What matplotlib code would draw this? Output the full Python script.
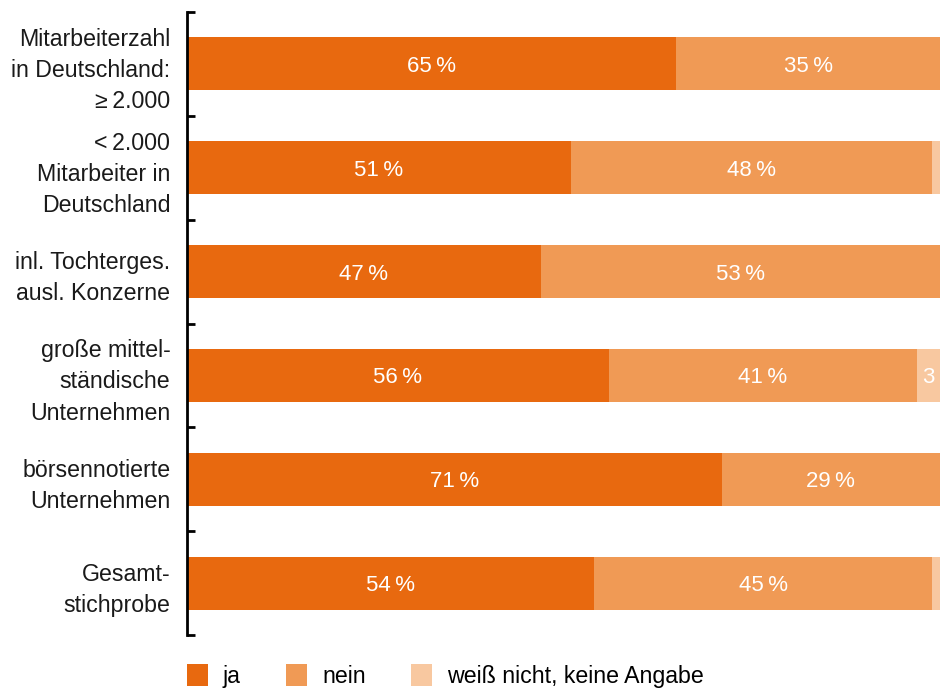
import matplotlib
matplotlib.use("Agg")
import matplotlib.pyplot as plt
from matplotlib.patches import Patch
import numpy as np

plt.rcParams["font.family"] = ["Liberation Sans", "DejaVu Sans"]

categories = [
    "Mitarbeiterzahl\nin Deutschland:\n≥\u20092.000",
    "<\u20092.000\nMitarbeiter in\nDeutschland",
    "inl. Tochterges.\nausl. Konzerne",
    "große mittel-\nständische\nUnternehmen",
    "börsennotierte\nUnternehmen",
    "Gesamt-\nstichprobe",
]
ja = [65, 51, 47, 56, 71, 54]
nein = [35, 48, 53, 41, 29, 45]
weiss = [0, 1, 0, 3, 0, 1]
labels_ja = ["65\u2009%", "51\u2009%", "47\u2009%", "56\u2009%", "71\u2009%", "54\u2009%"]
labels_nein = ["35\u2009%", "48\u2009%", "53\u2009%", "41\u2009%", "29\u2009%", "45\u2009%"]
labels_weiss = ["", "", "", "3", "", ""]

series = ["ja", "nein", "weiß nicht, keine Angabe"]
colors = ["#E8690F", "#F09A55", "#F8C8A0"]

fig = plt.figure(figsize=(9.49, 6.9), dpi=100)
ax = fig.add_axes([187 / 949, 55 / 690, 753 / 949, 623 / 690])

y = np.arange(len(categories))
left = np.zeros(len(categories))
for vals, col, labs in zip([ja, nein, weiss], colors,
                           [labels_ja, labels_nein, labels_weiss]):
    vals = np.array(vals, dtype=float)
    ax.barh(y, vals, left=left, height=0.51, color=col, linewidth=0)
    for yi, (l, v, t) in enumerate(zip(left, vals, labs)):
        if t:
            ax.text(l + v / 2, yi, t, color="white", fontsize=16,
                    ha="center", va="center_baseline")
    left += vals

ax.set_xlim(0, 100)
ax.set_ylim(len(categories) - 0.5, -0.5)
ax.set_yticks(y)
ax.set_yticklabels(categories, fontsize=16.7, linespacing=1.45,
                   color="#1a1a1a")
ax.tick_params(axis="y", which="major", length=0, pad=12)
ax.set_yticks(np.arange(-0.5, len(categories)), minor=True)
ax.tick_params(axis="y", which="minor", direction="in", length=6, width=2)
ax.set_xticks([])
for s in ["top", "right", "bottom"]:
    ax.spines[s].set_visible(False)
ax.spines["left"].set_linewidth(2)

handles = [Patch(facecolor=c, edgecolor="none") for c in colors]
fig.legend(handles, series, loc="lower left",
           bbox_to_anchor=(187 / 949, 2 / 690), ncol=3, frameon=False,
           fontsize=16.7, handlelength=0.9, handleheight=1.08,
           handletextpad=0.65, columnspacing=1.95, borderpad=0,
           borderaxespad=0)

fig.savefig("out.png", dpi=100)
